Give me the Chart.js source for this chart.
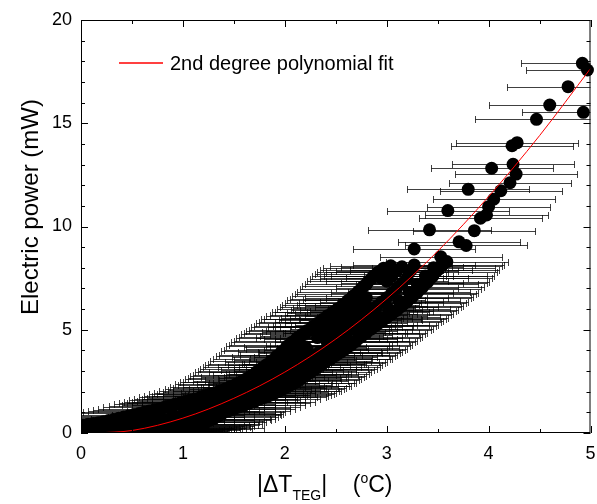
<!DOCTYPE html>
<html>
<head>
<meta charset="utf-8">
<title>Electric power vs |ΔT TEG|</title>
<script src="https://cdn.jsdelivr.net/npm/chart.js@4.4.1/dist/chart.umd.min.js"></script>
<style>
  body { margin: 0; background: #fff; }
  #wrap { position: relative; width: 597px; height: 504px; font-family: 'Liberation Sans', Arial, sans-serif; color: #000; }
  #yTitle { position: absolute; left: -120px; top: 192px; width: 300px; height: 30px; line-height: 30px;
            text-align: center; font-size: 24px; transform: rotate(-90deg); white-space: nowrap; }
  #xTitle { position: absolute; left: 257px; top: 471px; font-size: 23px; white-space: pre; }
  #xTitle .sub { font-size: 14px; position: relative; top: 8px; }
  #xTitle .sup { font-size: 14px; position: relative; top: -9px; }
</style>
</head>
<body>
<div id="wrap">
  <canvas id="powerChart" width="597" height="504"></canvas>
  <div id="yTitle">Electric power (mW)</div>
  <div id="xTitle">|ΔT<span class="sub">TEG</span>|    (<span class="sup">o</span>C)</div>
</div>
<script>
// |ΔT| (°C) and power (mW), split by where they sit in the cloud

// upper edge of the dense band
const upperDelta = [0.02, 0.07, 0.12, 0.17, 0.22, 0.27, 0.32, 0.37, 0.42, 0.47,
                    0.52, 0.57, 0.62, 0.67, 0.72, 0.77, 0.82, 0.87, 0.92, 0.97,
                    1.02, 1.07, 1.12, 1.17, 1.22, 1.27, 1.32, 1.37, 1.42, 1.47,
                    1.52, 1.57, 1.62, 1.67, 1.72, 1.77, 1.82, 1.87, 1.92, 1.97,
                    2.02, 2.07, 2.12, 2.17, 2.22, 2.27, 2.32, 2.37, 2.42, 2.47,
                    2.52, 2.57, 2.62, 2.67, 2.72, 2.77, 2.82, 2.87, 2.92, 2.97];
const upperPower = [0.38, 0.42, 0.46, 0.50, 0.55, 0.60, 0.65, 0.71, 0.77, 0.83,
                    0.89, 0.95, 1.00, 1.06, 1.12, 1.18, 1.25, 1.32, 1.39, 1.45,
                    1.52, 1.58, 1.65, 1.72, 1.80, 1.88, 1.96, 2.05, 2.14, 2.25,
                    2.36, 2.48, 2.62, 2.78, 2.95, 3.12, 3.30, 3.50, 3.72, 3.95,
                    4.20, 4.40, 4.60, 4.78, 4.96, 5.14, 5.32, 5.50, 5.68, 5.85,
                    6.02, 6.22, 6.42, 6.64, 6.85, 7.10, 7.35, 7.60, 7.80, 7.98];

// a second run lying on the upper edge
const upperAltDelta = [1.00, 1.05, 1.10, 1.15, 1.20, 1.25, 1.30, 1.35, 1.40, 1.45,
                       1.50, 1.55, 1.60, 1.65, 1.70, 1.75, 1.80, 1.85, 1.90, 1.95,
                       2.00, 2.05, 2.10, 2.15, 2.20, 2.25, 2.30, 2.35, 2.40, 2.45,
                       2.50, 2.55, 2.60, 2.65, 2.70, 2.75, 2.80, 2.85, 2.90, 2.95];
const upperAltPower = [1.38, 1.44, 1.50, 1.57, 1.64, 1.71, 1.79, 1.88, 1.98, 2.08,
                       2.20, 2.34, 2.48, 2.64, 2.82, 3.00, 3.18, 3.36, 3.56, 3.78,
                       4.02, 4.26, 4.46, 4.64, 4.82, 5.00, 5.18, 5.36, 5.54, 5.72,
                       5.88, 6.08, 6.28, 6.50, 6.72, 6.96, 7.20, 7.46, 7.68, 7.88];

// just inside the upper edge
const upperInDelta = [1.10, 1.20, 1.30, 1.40, 1.50, 1.60, 1.70, 1.78, 1.86, 1.94,
                      2.01, 2.08, 2.14, 2.20, 2.32, 2.38, 2.44, 2.50, 2.56, 2.62,
                      2.68, 2.74, 2.80, 2.98];
const upperInPower = [1.35, 1.50, 1.65, 1.82, 2.02, 2.24, 2.50, 2.72, 2.96, 3.20,
                      3.44, 3.70, 3.94, 4.18, 4.62, 4.90, 5.14, 5.36, 5.58, 5.82,
                      6.06, 6.30, 6.56, 7.60];

// between the upper edge and the fit
const upperMidDelta = [0.30, 0.50, 0.70, 0.90, 1.05, 1.20, 1.30, 1.40, 1.50, 1.58,
                       1.66, 1.74, 1.82, 1.90, 1.97, 2.04, 2.10, 2.16, 2.22, 2.36,
                       2.42, 2.48, 2.54, 2.60, 2.66, 2.72, 2.78, 2.95, 3.00];
const upperMidPower = [0.35, 0.50, 0.68, 0.88, 1.05, 1.25, 1.40, 1.58, 1.78, 1.96,
                       2.15, 2.36, 2.58, 2.82, 3.05, 3.30, 3.55, 3.80, 4.05, 4.70,
                       4.95, 5.20, 5.45, 5.70, 5.95, 6.20, 6.45, 7.50, 7.80];

// core of the band above the fit
const coreDelta = [2.40, 2.45, 2.50, 2.55, 2.60, 2.65, 2.70, 2.75, 2.80,
                   3.00, 3.05, 3.10, 3.15];
const corePower = [4.55, 4.75, 4.95, 5.15, 5.35, 5.55, 5.75, 5.95, 6.15,
                   7.35, 7.60, 7.85, 8.05];

// just above the fit
const nearFitDelta = [0.60, 0.80, 1.00, 1.15, 1.30, 1.42, 1.52, 1.62, 1.70, 1.78,
                      1.86, 1.94, 2.02, 2.10, 2.18, 2.26, 2.34, 2.42, 2.50, 2.58,
                      2.66, 2.74, 2.82];
const nearFitPower = [0.52, 0.68, 0.88, 1.06, 1.28, 1.48, 1.66, 1.86, 2.04, 2.22,
                      2.42, 2.64, 2.86, 3.10, 3.36, 3.64, 3.92, 4.22, 4.54, 4.86,
                      5.18, 5.52, 5.86];

// middle of the band, close to the fit
const midDelta = [0.00, 0.10, 0.20, 0.30, 0.40, 0.50, 0.60, 0.70, 0.80, 0.90,
                  1.00, 1.10, 1.20, 1.30, 1.40, 1.50, 1.55, 1.60, 1.65, 1.70,
                  1.75, 1.80, 1.85, 1.90, 1.95, 2.00, 2.05, 2.10, 2.15, 2.20,
                  2.25, 2.30, 2.35, 2.40, 2.45, 2.50, 2.55, 2.60, 2.65, 2.70,
                  2.75, 2.80, 2.85, 2.90, 2.95, 3.00, 3.05, 3.10, 3.15, 3.20];
const midPower = [0.12, 0.15, 0.18, 0.22, 0.27, 0.33, 0.40, 0.48, 0.57, 0.67,
                  0.78, 0.90, 1.03, 1.18, 1.34, 1.52, 1.62, 1.72, 1.83, 1.94,
                  2.06, 2.18, 2.31, 2.44, 2.58, 2.72, 2.87, 3.02, 3.18, 3.34,
                  3.51, 3.68, 3.86, 4.04, 4.23, 4.42, 4.62, 4.82, 5.03, 5.24,
                  5.46, 5.68, 5.90, 6.12, 6.34, 6.55, 6.78, 7.02, 7.25, 7.50];

// between the fit and the lower edge
const midLowDelta = [0.90, 1.10, 1.30, 1.45, 1.60, 1.72, 1.82, 1.92, 2.02, 2.12,
                     2.22, 2.32, 2.42, 2.52, 2.62, 2.72, 2.82, 2.92, 3.02, 3.12,
                     3.22, 3.30, 3.38, 3.46];
const midLowPower = [0.45, 0.65, 0.95, 1.20, 1.50, 1.75, 1.98, 2.25, 2.52, 2.82,
                     3.12, 3.44, 3.76, 4.10, 4.46, 4.84, 5.22, 5.60, 6.00, 6.40,
                     6.82, 7.20, 7.60, 8.00];

// lower edge of the band
const lowDelta = [0.40, 0.50, 0.60, 0.70, 0.80, 0.90, 1.00, 1.10, 1.20, 1.30,
                  1.40, 1.50, 1.60, 1.70, 1.80, 1.85, 1.90, 1.95, 2.00, 2.05,
                  2.10, 2.15, 2.20, 2.25, 2.30, 2.35, 2.40, 2.45, 2.50, 2.55,
                  2.60, 2.65, 2.70, 2.75, 2.80, 2.85, 2.90, 2.95, 3.00, 3.05,
                  3.10, 3.15, 3.20, 3.25, 3.30, 3.35, 3.40, 3.45, 3.50, 3.55];
const lowPower = [0.04, 0.05, 0.07, 0.10, 0.15, 0.22, 0.32, 0.45, 0.60, 0.80,
                  1.00, 1.16, 1.34, 1.52, 1.72, 1.82, 1.93, 2.05, 2.17, 2.30,
                  2.44, 2.60, 2.76, 2.93, 3.10, 3.27, 3.44, 3.60, 3.76, 3.92,
                  4.08, 4.26, 4.45, 4.65, 4.85, 5.04, 5.22, 5.40, 5.58, 5.76,
                  5.95, 6.15, 6.36, 6.58, 6.80, 7.05, 7.30, 7.58, 7.88, 8.15];

// a second run on the lower edge
const lowAltDelta = [0.45, 0.55, 0.65, 0.75, 0.85, 0.95, 1.05, 1.15, 1.25, 1.35,
                     1.45, 1.55, 1.65, 1.75, 1.82, 1.88, 1.93, 1.98, 2.03, 2.08,
                     2.13, 2.18, 2.23, 2.28, 2.33, 2.38, 2.43, 2.48, 2.53, 2.58,
                     2.63, 2.68, 2.73, 2.78, 2.83, 2.88, 2.93, 2.98, 3.03, 3.08,
                     3.13, 3.18, 3.23, 3.28, 3.33, 3.38, 3.43, 3.48, 3.53];
const lowAltPower = [0.06, 0.08, 0.11, 0.14, 0.20, 0.27, 0.38, 0.52, 0.70, 0.90,
                     1.08, 1.26, 1.44, 1.64, 1.78, 1.90, 2.01, 2.13, 2.26, 2.40,
                     2.55, 2.71, 2.88, 3.05, 3.22, 3.39, 3.56, 3.72, 3.88, 4.04,
                     4.21, 4.40, 4.60, 4.80, 5.00, 5.18, 5.36, 5.54, 5.72, 5.90,
                     6.10, 6.30, 6.52, 6.74, 6.98, 7.24, 7.50, 7.80, 8.08];

// low-power readings near 1 °C
const lowFloorDelta = [0.62, 0.68, 0.74, 0.78, 0.83, 0.87, 0.92, 0.98, 1.02, 1.06,
                       1.10, 1.14, 1.18, 1.22, 1.26, 1.30, 1.33, 1.36, 1.38];
const lowFloorPower = [0.03, 0.05, 0.07, 0.09, 0.11, 0.14, 0.17, 0.20, 0.24, 0.29,
                       0.34, 0.40, 0.46, 0.53, 0.61, 0.70, 0.78, 0.86, 0.94];

// readings lying on the bottom axis
const baseDelta = [0.00, 0.12, 0.24, 0.36, 0.48, 0.60, 0.72, 0.84, 0.96, 1.08, 1.20];
const basePower = [0.02, 0.03, 0.03, 0.04, 0.05, 0.06, 0.08, 0.10, 0.13, 0.17, 0.22];

// the separate points above 8 mW
const topDelta = [3.04, 3.24, 3.27, 3.27, 3.42, 3.53, 3.59, 3.60, 3.71, 3.78,
                  3.80, 3.86, 3.92, 3.98, 4.00, 4.03, 4.05, 4.12, 4.21, 4.24,
                  4.27, 4.23, 4.28, 4.47, 4.60, 4.78, 4.92, 4.93, 4.97];
const topPower = [8.10, 7.89, 8.14, 8.91, 9.84, 8.54, 8.30, 10.77, 9.26, 9.08,
                  11.80, 9.80, 10.40, 10.56, 10.96, 12.82, 11.32, 11.73, 12.12, 13.01,
                  12.54, 13.91, 14.06, 15.19, 15.88, 16.77, 17.90, 15.53, 17.58];

// half width of the horizontal error bars (°C)
const deltaErr = 0.6;

// 2nd degree polynomial fit
const fitDelta = [0.15, 0.5, 1.0, 1.5, 2.0, 2.5, 3.0, 3.5, 4.0, 4.5, 5.0];
const fitPower = [0.00, 0.12, 0.72, 1.68, 2.95, 4.55, 6.50, 8.80, 11.45, 14.40, 17.65];

const xRange = [0, 5];
const yRange = [0, 20];

const fitColor = '#ff0000';
const fontFamily = "'Liberation Sans', Arial, sans-serif";

function toPoints(xs, ys) {
    return xs.map((x, i) => ({ x: x, y: ys[i] }));
}

const measured = [].concat(
    toPoints(baseDelta, basePower),
    toPoints(lowFloorDelta, lowFloorPower),
    toPoints(lowDelta, lowPower),
    toPoints(lowAltDelta, lowAltPower),
    toPoints(midLowDelta, midLowPower),
    toPoints(midDelta, midPower),
    toPoints(nearFitDelta, nearFitPower),
    toPoints(coreDelta, corePower),
    toPoints(upperMidDelta, upperMidPower),
    toPoints(upperInDelta, upperInPower),
    toPoints(upperAltDelta, upperAltPower),
    toPoints(upperDelta, upperPower),
    toPoints(topDelta, topPower)
);

// horizontal error bars, drawn under the dots
const errorBarPlugin = {
    id: 'errorBars',
    beforeDatasetsDraw(chart) {
        const ctx = chart.ctx;
        const area = chart.chartArea;
        const xs = chart.scales.x;
        ctx.save();
        ctx.beginPath();
        ctx.rect(area.left, area.top, area.right - area.left, area.bottom - area.top);
        ctx.clip();
        ctx.strokeStyle = 'rgba(0, 0, 0, 0.75)';
        ctx.lineWidth = 1;
        chart.data.datasets.forEach((ds, i) => {
            if (!ds.xError) return;
            chart.getDatasetMeta(i).data.forEach((pt, j) => {
                const v = ds.data[j];
                const l = Math.round(xs.getPixelForValue(v.x - ds.xError)) + 0.5;
                const r = Math.round(xs.getPixelForValue(v.x + ds.xError)) + 0.5;
                const y = Math.round(pt.y) + 0.5;
                ctx.beginPath();
                ctx.moveTo(l, y);
                ctx.lineTo(r, y);
                ctx.moveTo(l, y - 3.5);
                ctx.lineTo(l, y + 3.5);
                ctx.moveTo(r, y - 3.5);
                ctx.lineTo(r, y + 3.5);
                ctx.stroke();
            });
        });
        ctx.restore();
    }
};

// box frame with inward ticks on all sides, plus the legend
const framePlugin = {
    id: 'frame',
    afterDraw(chart) {
        const ctx = chart.ctx;
        const a = chart.chartArea;
        const xs = chart.scales.x;
        const ys = chart.scales.y;
        ctx.save();
        ctx.strokeStyle = '#000';
        ctx.lineWidth = 1;
        ctx.strokeRect(a.left + 0.5, a.top + 0.5, a.right - a.left - 1, a.bottom - a.top - 1);

        ctx.beginPath();
        for (let v = xRange[0]; v <= xRange[1] + 1e-6; v += 0.5) {
            const px = Math.round(xs.getPixelForValue(v)) + 0.5;
            const len = Math.abs(v - Math.round(v)) < 1e-6 ? 7 : 4;
            ctx.moveTo(px, a.bottom);
            ctx.lineTo(px, a.bottom - len);
            ctx.moveTo(px, a.top);
            ctx.lineTo(px, a.top + len);
        }
        for (let v = yRange[0]; v <= yRange[1] + 1e-6; v += 1) {
            const py = Math.round(ys.getPixelForValue(v)) + 0.5;
            const len = v % 5 === 0 ? 7 : 4;
            ctx.moveTo(a.left, py);
            ctx.lineTo(a.left + len, py);
            ctx.moveTo(a.right, py);
            ctx.lineTo(a.right - len, py);
        }
        ctx.stroke();

        // legend: red sample line and label
        const fit = chart.data.datasets[0];
        ctx.strokeStyle = fitColor;
        ctx.lineWidth = 1.3;
        ctx.beginPath();
        ctx.moveTo(119, 63);
        ctx.lineTo(163, 63);
        ctx.stroke();
        ctx.fillStyle = '#000';
        ctx.font = '20px ' + fontFamily;
        ctx.textBaseline = 'middle';
        ctx.fillText(fit.label, 170, 64);
        ctx.restore();
    }
};

new Chart(document.getElementById('powerChart'), {
    type: 'scatter',
    data: {
        datasets: [{
            label: '2nd degree polynomial fit',
            data: toPoints(fitDelta, fitPower),
            showLine: true,
            borderColor: fitColor,
            borderWidth: 1,
            pointRadius: 0,
            cubicInterpolationMode: 'monotone',
            order: 0
        }, {
            label: 'measured',
            data: measured,
            pointRadius: 6.5,
            pointBackgroundColor: '#000',
            pointBorderWidth: 0,
            xError: deltaErr,
            clip: { left: 0, top: 0, right: 8, bottom: 0 },
            order: 1
        }]
    },
    options: {
        responsive: false,
        devicePixelRatio: 1,
        animation: false,
        events: [],
        layout: { padding: { top: 20, right: 2, left: 0, bottom: 0 } },
        plugins: {
            legend: { display: false },
            tooltip: { enabled: false }
        },
        scales: {
            x: {
                type: 'linear',
                min: xRange[0],
                max: xRange[1],
                grid: { display: false, drawTicks: false },
                border: { display: false },
                ticks: {
                    stepSize: 1,
                    color: '#000',
                    padding: 10,
                    maxRotation: 0,
                    font: { size: 18, family: fontFamily }
                },
                afterFit(scale) {
                    scale.height = 71;
                    scale.paddingLeft = 0;
                    scale.paddingRight = 0;
                }
            },
            y: {
                type: 'linear',
                min: yRange[0],
                max: yRange[1],
                grid: { display: false, drawTicks: false },
                border: { display: false },
                ticks: {
                    stepSize: 5,
                    color: '#000',
                    padding: 9,
                    font: { size: 18, family: fontFamily }
                },
                afterFit(scale) {
                    scale.width = 81;
                    scale.paddingTop = 0;
                    scale.paddingBottom = 0;
                }
            }
        }
    },
    plugins: [errorBarPlugin, framePlugin]
});
</script>
</body>
</html>
